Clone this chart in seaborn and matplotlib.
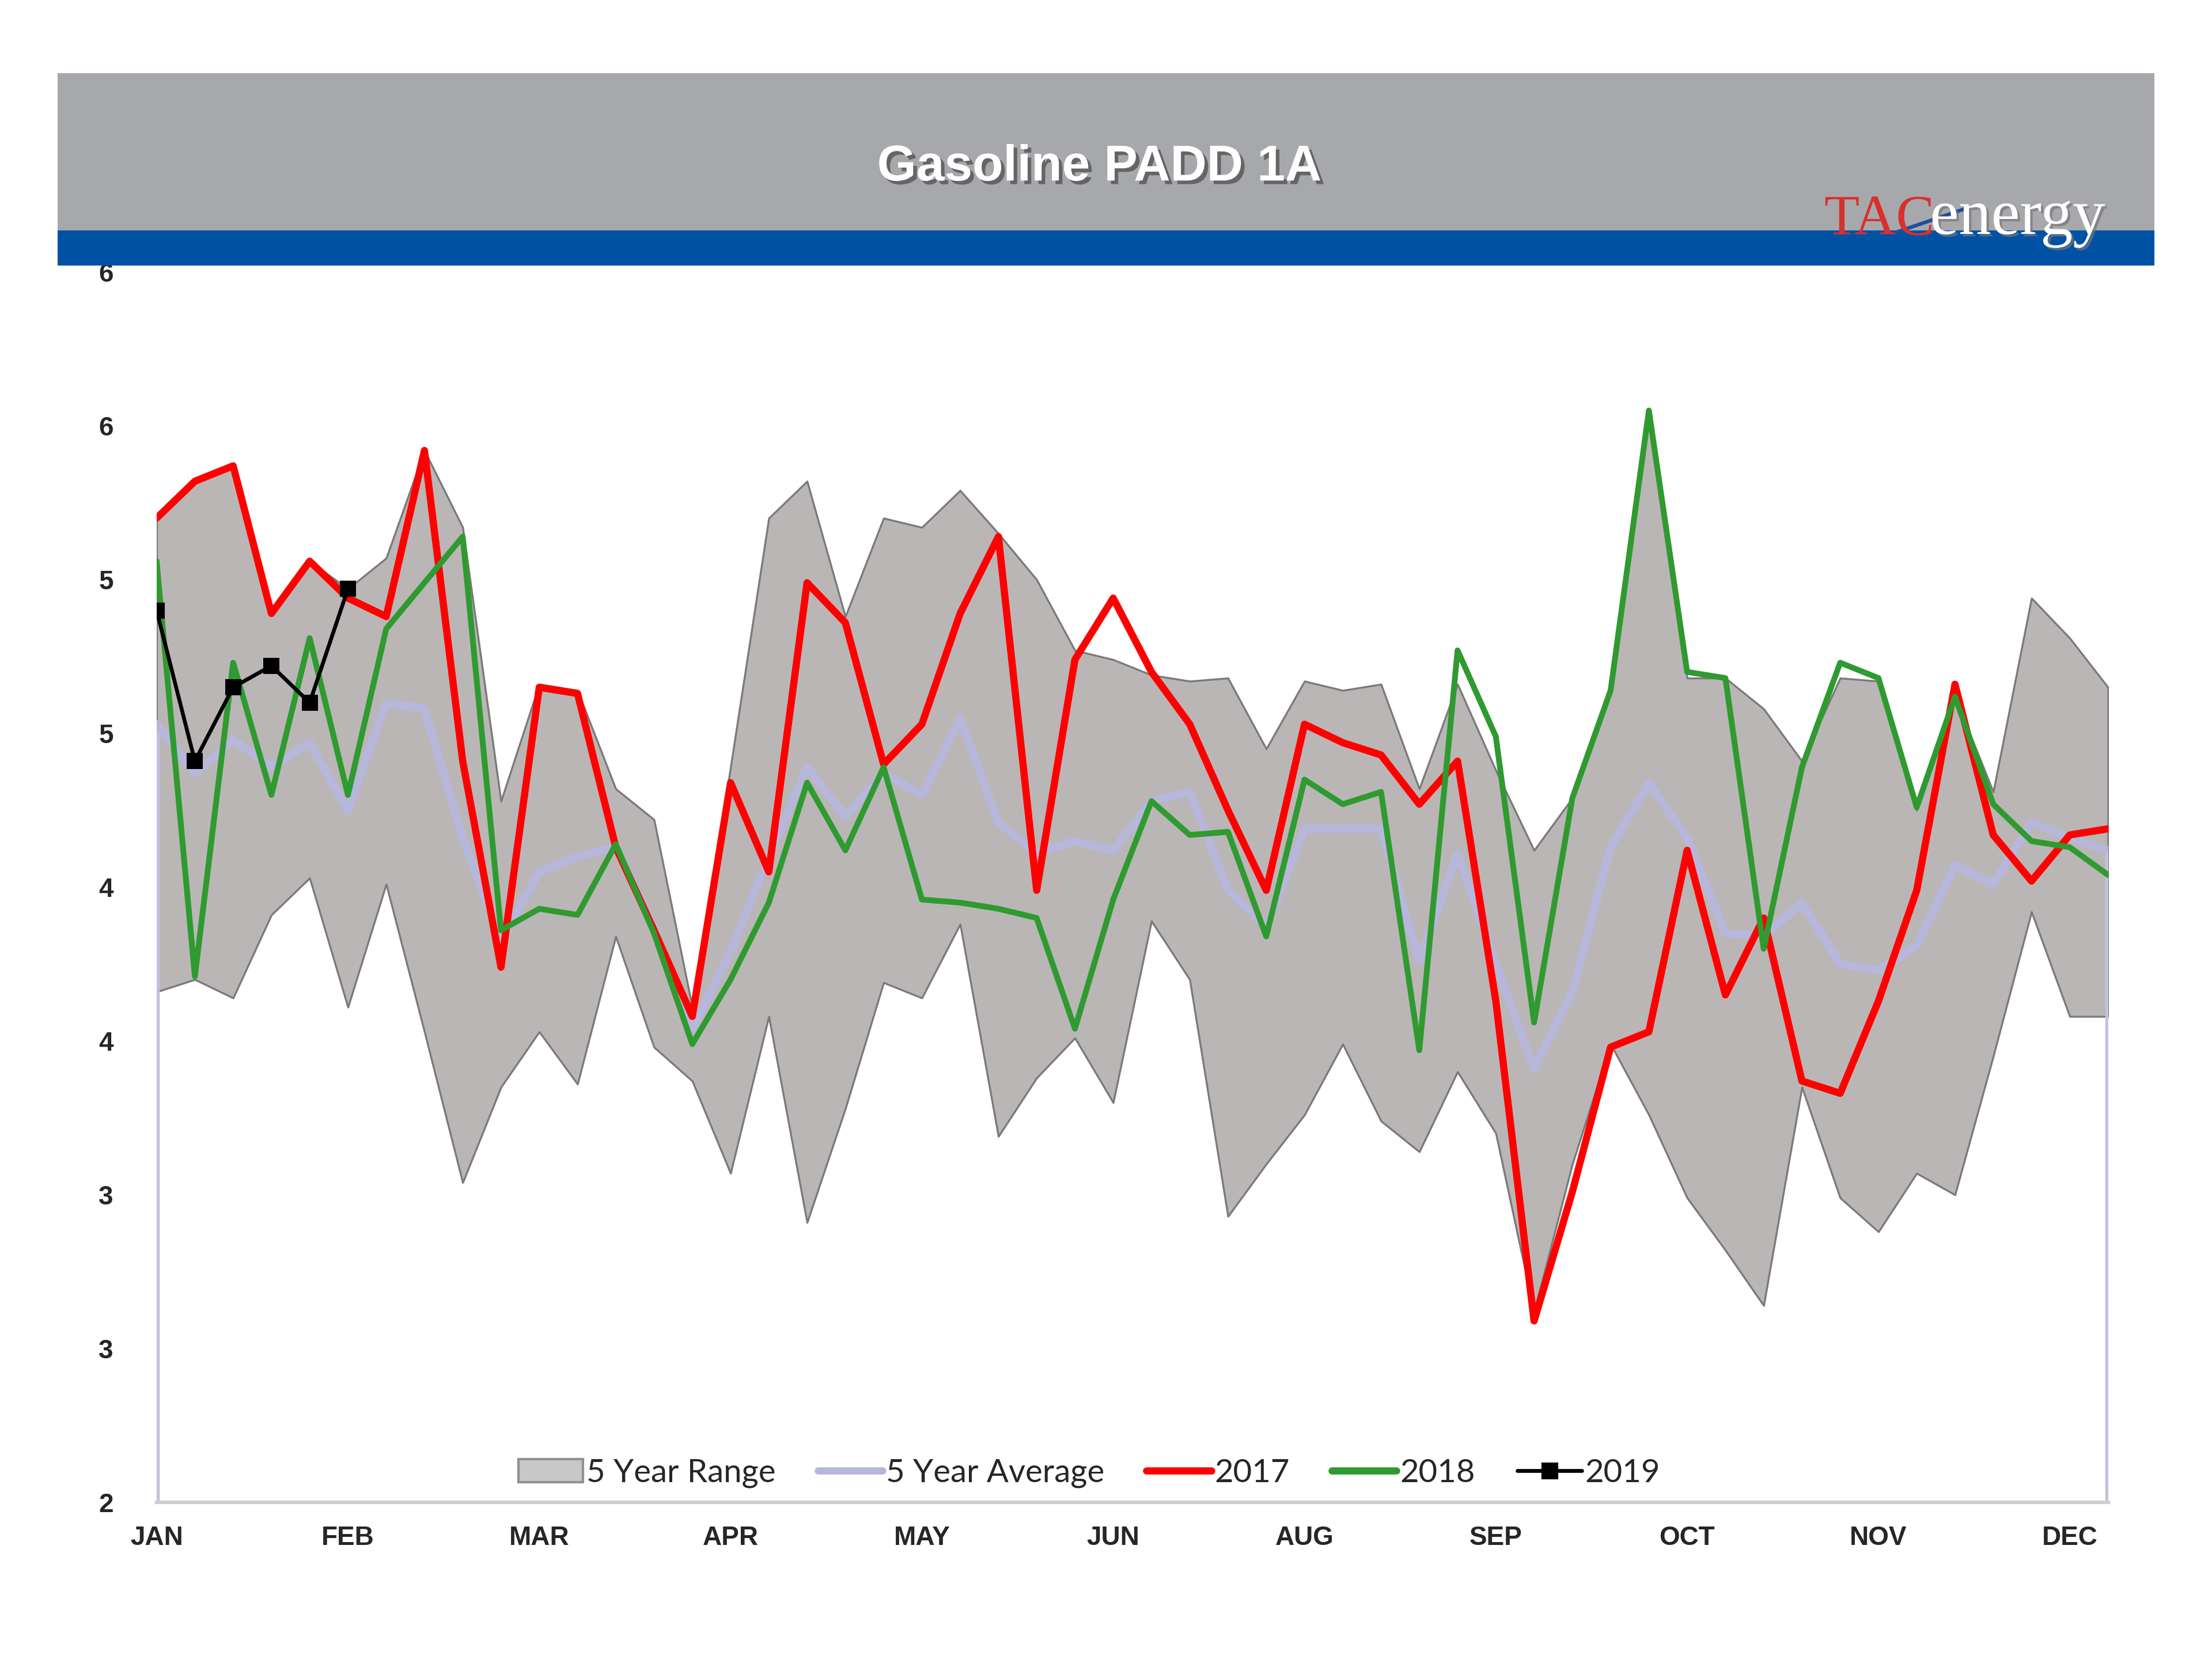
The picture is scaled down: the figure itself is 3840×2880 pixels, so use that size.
import matplotlib.pyplot as plt
import matplotlib.patheffects as pe
from matplotlib.patches import Rectangle, Patch
from matplotlib.lines import Line2D
import seaborn as sns
import numpy as np

# weekly stocks, 52 weeks
weeks = np.arange(52)
month_ticks = [0, 5, 10, 15, 20, 25, 30, 35, 40, 45, 50]
month_labels = ['JAN', 'FEB', 'MAR', 'APR', 'MAY', 'JUN', 'AUG', 'SEP', 'OCT', 'NOV', 'DEC']
y_ticks = [2, 2.5, 3, 3.5, 4, 4.5, 5, 5.5, 6]
y_labels = ['2', '3', '3', '4', '4', '5', '5', '6', '6']

range_high = [5.20, 5.32, 5.37, 4.89, 5.06, 4.97, 5.07, 5.42, 5.17, 4.28,
              4.66, 4.64, 4.32, 4.22, 3.61, 4.39, 5.20, 5.32, 4.88, 5.20,
              5.17, 5.29, 5.15, 5.00, 4.77, 4.74, 4.69, 4.67, 4.68, 4.45,
              4.67, 4.64, 4.66, 4.32, 4.66, 4.38, 4.12, 4.29, 4.66, 5.52,
              4.68, 4.68, 4.58, 4.41, 4.68, 4.67, 4.25, 4.62, 4.31, 4.94,
              4.81, 4.65]
range_low = [3.66, 3.70, 3.64, 3.91, 4.03, 3.61, 4.01, 3.53, 3.04, 3.35,
             3.53, 3.36, 3.84, 3.48, 3.37, 3.07, 3.58, 2.91, 3.28, 3.69,
             3.64, 3.88, 3.19, 3.38, 3.51, 3.30, 3.89, 3.70, 2.93, 3.10,
             3.26, 3.49, 3.24, 3.14, 3.40, 3.20, 2.62, 3.10, 3.49, 3.26,
             2.99, 2.82, 2.64, 3.35, 2.99, 2.88, 3.07, 3.00, 3.45, 3.92,
             3.58, 3.58]
avg_5yr = [4.53, 4.37, 4.48, 4.39, 4.47, 4.25, 4.60, 4.58, 4.16, 3.83,
           4.05, 4.10, 4.13, 3.87, 3.54, 3.79, 4.10, 4.39, 4.23, 4.37,
           4.30, 4.55, 4.21, 4.11, 4.15, 4.12, 4.28, 4.31, 3.99, 3.87,
           4.19, 4.19, 4.19, 3.76, 4.11, 3.75, 3.41, 3.66, 4.13, 4.34,
           4.16, 3.85, 3.84, 3.95, 3.75, 3.73, 3.81, 4.07, 4.01, 4.21,
           4.16, 4.12]
y2017 = [5.20, 5.32, 5.37, 4.89, 5.06, 4.94, 4.88, 5.42, 4.41, 3.74,
         4.65, 4.63, 4.13, 3.86, 3.58, 4.34, 4.05, 4.99, 4.86, 4.40,
         4.53, 4.89, 5.14, 3.99, 4.74, 4.94, 4.70, 4.53, 4.25, 3.99,
         4.53, 4.47, 4.43, 4.27, 4.41, 3.63, 2.59, 3.01, 3.48, 3.53,
         4.12, 3.65, 3.90, 3.37, 3.33, 3.63, 3.99, 4.66, 4.17, 4.02,
         4.17, 4.19]
y2018 = [5.06, 3.71, 4.73, 4.30, 4.81, 4.30, 4.84, 4.99, 5.14, 3.86,
         3.93, 3.91, 4.14, 3.85, 3.49, 3.70, 3.95, 4.34, 4.12, 4.39,
         3.96, 3.95, 3.93, 3.90, 3.54, 3.96, 4.28, 4.17, 4.18, 3.84,
         4.35, 4.27, 4.31, 3.47, 4.77, 4.49, 3.56, 4.29, 4.64, 5.55,
         4.70, 4.68, 3.80, 4.39, 4.73, 4.68, 4.26, 4.62, 4.27, 4.15,
         4.13, 4.04]
y2019 = [4.90, 4.41, 4.65, 4.72, 4.60, 4.97]

sns.set_theme(style='white')
plt.rcParams['font.family'] = ['Liberation Sans', 'DejaVu Sans']

fig = plt.figure(figsize=(12.8, 9.6), dpi=300)
fig.patch.set_facecolor('white')

# header banner
fig.patches.append(Rectangle((0.026, 0.861), 0.948, 0.095, transform=fig.transFigure,
                             facecolor='#a7a8ac', edgecolor='none', zorder=0))
fig.patches.append(Rectangle((0.026, 0.840), 0.948, 0.021, transform=fig.transFigure,
                             facecolor='#0052a4', edgecolor='none', zorder=0))
fig.text(0.497, 0.899, 'Gasoline PADD 1A', ha='center', va='center', color='white',
         fontsize=21, fontweight='bold',
         path_effects=[pe.withSimplePatchShadow(offset=(1.5, -1.5), shadow_rgbFace='#555555', alpha=0.8)])
fig.text(0.8745, 0.859, 'TAC', ha='right', va='baseline', color='#d8302c',
         fontsize=24, family='Liberation Serif')
fig.text(0.8725, 0.859, 'energy', ha='left', va='baseline', color='white',
         fontsize=27, family='Liberation Serif',
         path_effects=[pe.withSimplePatchShadow(offset=(1, -1), shadow_rgbFace='#777777', alpha=0.7)])
fig.lines.append(Line2D([0.855, 0.888], [0.859, 0.874], transform=fig.transFigure,
                        color='#1f4e9a', linewidth=1.5))

ax = fig.add_axes([0.0708, 0.0944, 0.8822, 0.7416])

ax.fill_between(weeks, range_low, range_high, facecolor='#bab6b6', edgecolor='#7a7a7a',
                linewidth=0.8, zorder=1)
ax.vlines([weeks[0], weeks[-1]], 2, [avg_5yr[0], avg_5yr[-1]], colors='#c2c2de',
          linewidth=2.5, zorder=1.5)

sns.lineplot(x=weeks, y=avg_5yr, ax=ax, color='#b7b7dc', linewidth=3.4, zorder=2)
sns.lineplot(x=weeks, y=y2017, ax=ax, color='#ff0000', linewidth=3.0, zorder=3)
sns.lineplot(x=weeks, y=y2018, ax=ax, color='#2f9a2f', linewidth=2.4, zorder=4)
sns.lineplot(x=weeks[:len(y2019)], y=y2019, ax=ax, color='black', linewidth=1.6,
             marker='s', markersize=6.5, markeredgewidth=0, zorder=5)

ax.set_xlim(0, 51)
ax.set_ylim(2, 6)
ax.set_xticks(month_ticks)
ax.set_xticklabels(month_labels, fontsize=11, fontweight='bold')
ax.set_yticks(y_ticks)
ax.set_yticklabels(y_labels, fontsize=11, fontweight='bold')
ax.tick_params(axis='x', length=0, pad=9.5)
ax.tick_params(axis='y', length=0, pad=18)
ax.set_xlabel('')
ax.set_ylabel('')
for s in ['top', 'right', 'left']:
    ax.spines[s].set_visible(False)
ax.spines['bottom'].set_color('#cfcfcf')
ax.spines['bottom'].set_linewidth(1.5)
ax.set_facecolor('none')

handles = [
    Patch(facecolor='#c8c8c8', edgecolor='#909090', label='5 Year Range'),
    Line2D([], [], color='#b7b7dc', linewidth=3, label='5 Year Average'),
    Line2D([], [], color='#ff0000', linewidth=3, label='2017'),
    Line2D([], [], color='#2f9a2f', linewidth=3, label='2018'),
    Line2D([], [], color='black', linewidth=1.6, marker='s', markersize=6, label='2019'),
]
ax.legend(handles=handles, loc='lower center', bbox_to_anchor=(0.478, -0.012), ncol=5,
          frameon=False, handlelength=2.0, handletextpad=0.1, columnspacing=1.3,
          prop={'family': 'Lato', 'size': 13.5})

fig.savefig('out.png', dpi=300)
